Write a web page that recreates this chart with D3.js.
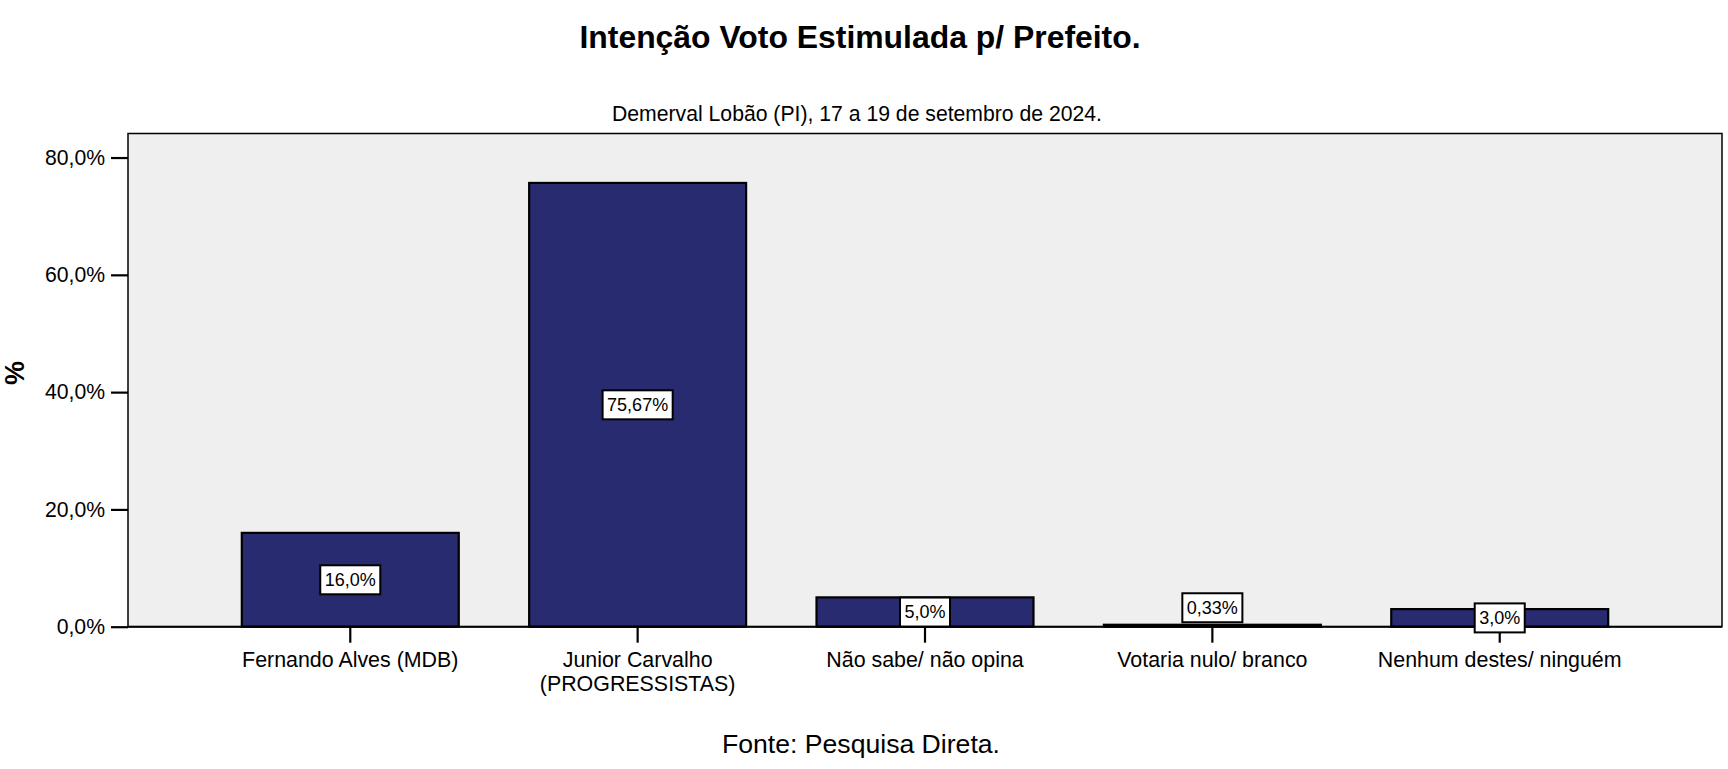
<!DOCTYPE html>
<html>
<head>
<meta charset="utf-8">
<script src="https://cdn.jsdelivr.net/npm/d3@7/dist/d3.min.js"></script>
<style>
  html, body { margin: 0; padding: 0; background: #ffffff; }
  svg { display: block; font-family: "Liberation Sans", Arial, sans-serif; }
</style>
</head>
<body>
<svg id="chart" width="1728" height="769"></svg>
<script>
const title = "Intenção Voto Estimulada p/ Prefeito.";
const subtitle = "Demerval Lobão (PI), 17 a 19 de setembro de 2024.";
const footer = "Fonte: Pesquisa Direta.";
const yAxisTitle = "%";
const categories = [
  "Fernando Alves (MDB)",
  "Junior Carvalho\n(PROGRESSISTAS)",
  "Não sabe/ não opina",
  "Votaria nulo/ branco",
  "Nenhum destes/ ninguém"
];
const values = [16.0, 75.67, 5.0, 0.33, 3.0];
const valueLabels = ["16,0%", "75,67%", "5,0%", "0,33%", "3,0%"];
const yTicks = [0, 20, 40, 60, 80];

const svg = d3.select("#chart");
const plot = { left: 128, right: 1722, top: 133.5, bottom: 626.7 };

const x = d3.scaleBand()
  .domain(categories)
  .range([plot.left, plot.right])
  .paddingInner(0.245)
  .paddingOuter(0.396);

const y = d3.scaleLinear()
  .domain([0, 84.1])
  .range([plot.bottom, plot.top]);

// plot background
svg.append("rect")
  .attr("x", plot.left).attr("y", plot.top)
  .attr("width", plot.right - plot.left)
  .attr("height", plot.bottom - plot.top)
  .attr("fill", "#efefef")
  .attr("stroke", "#000").attr("stroke-width", 1.5);

// titles
svg.append("text").attr("x", 860).attr("y", 48.3)
  .attr("text-anchor", "middle").attr("font-size", 31.9).attr("font-weight", "bold")
  .attr("fill", "#000").text(title);
svg.append("text").attr("x", 857).attr("y", 121)
  .attr("text-anchor", "middle").attr("font-size", 21.2)
  .attr("fill", "#000").text(subtitle);
svg.append("text").attr("x", 861).attr("y", 753.3)
  .attr("text-anchor", "middle").attr("font-size", 26.6)
  .attr("fill", "#000").text(footer);

// y axis title
svg.append("text")
  .attr("transform", "translate(24,373) rotate(-90)")
  .attr("text-anchor", "middle").attr("font-size", 27).attr("font-weight", "bold")
  .attr("fill", "#000").text(yAxisTitle);

// bars
svg.append("g").selectAll("rect")
  .data(values)
  .join("rect")
  .attr("x", (d, i) => x(categories[i]))
  .attr("y", d => y(d))
  .attr("width", x.bandwidth())
  .attr("height", d => y(0) - y(d))
  .attr("fill", "#292b70")
  .attr("stroke", "#000").attr("stroke-width", 2.2);

// y axis
const yAxis = d3.axisLeft(y)
  .tickValues(yTicks)
  .tickSize(17)
  .tickPadding(6)
  .tickFormat(d => d3.format(".1f")(d).replace(".", ",") + "%");
const gy = svg.append("g").attr("transform", `translate(${plot.left},0)`).call(yAxis);
gy.select(".domain").remove();
gy.selectAll(".tick line").attr("stroke", "#000").attr("stroke-width", 2.2);
gy.selectAll(".tick text").attr("font-size", 21.2).attr("fill", "#000")
  .attr("font-family", "'Liberation Sans', Arial, sans-serif");

// x axis
const xAxis = d3.axisBottom(x).tickSize(16).tickPadding(0).tickFormat("");
const gx = svg.append("g").attr("transform", `translate(0,${plot.bottom})`).call(xAxis);
gx.select(".domain").attr("stroke", "#000").attr("stroke-width", 2)
  .attr("d", `M${plot.left},0H${plot.right}`);
gx.selectAll(".tick line").attr("stroke", "#000").attr("stroke-width", 2.2);

// x labels
const xl = svg.append("g").selectAll("text")
  .data(categories)
  .join("text")
  .attr("x", d => x(d) + x.bandwidth() / 2)
  .attr("y", 666.7)
  .attr("text-anchor", "middle")
  .attr("font-size", 21.4)
  .attr("fill", "#000");
xl.each(function(d) {
  const lines = d.split("\n");
  const t = d3.select(this);
  lines.forEach((ln, k) => {
    t.append("tspan")
      .attr("x", x(d) + x.bandwidth() / 2)
      .attr("dy", k === 0 ? 0 : 24.5)
      .text(ln);
  });
});

// value labels
const lg = svg.append("g");
values.forEach((v, i) => {
  const cx = x(categories[i]) + x.bandwidth() / 2;
  const boxH = 29;
  let cy = (y(0) + y(v)) / 2;
  if (v < 1) cy = y(v) - 2.5 - boxH / 2;
  const g = lg.append("g");
  const txt = g.append("text")
    .attr("x", cx).attr("y", cy)
    .attr("text-anchor", "middle")
    .attr("dominant-baseline", "central")
    .attr("font-size", 18)
    .attr("fill", "#000")
    .text(valueLabels[i]);
  const w = txt.node().getComputedTextLength() + 9;
  g.insert("rect", "text")
    .attr("x", cx - w / 2).attr("y", cy - boxH / 2)
    .attr("width", w).attr("height", boxH)
    .attr("fill", "#fff").attr("stroke", "#000").attr("stroke-width", 2);
});
</script>
</body>
</html>
